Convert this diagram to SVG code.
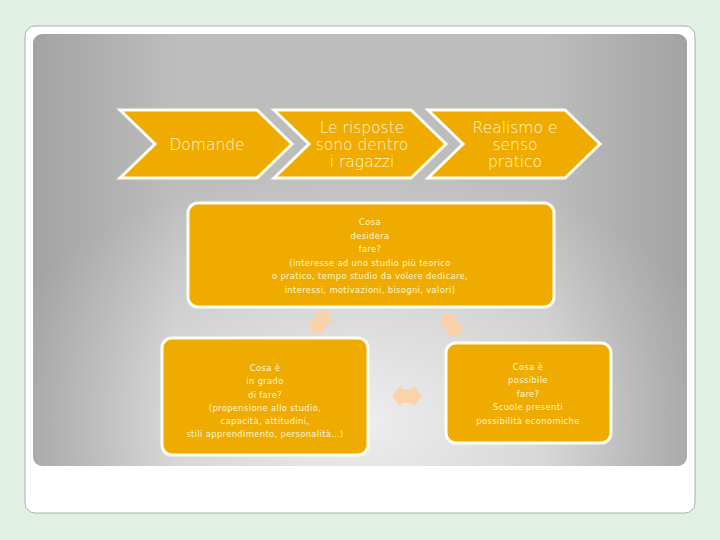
<svg xmlns="http://www.w3.org/2000/svg" width="720" height="540" viewBox="0 0 720 540">
<defs>
<radialGradient id="bg" cx="0.5" cy="0.9" r="0.6">
<stop offset="0" stop-color="#EEEEEE"/>
<stop offset="0.6" stop-color="#D2D2D2"/>
<stop offset="1" stop-color="#BDBDBD"/>
</radialGradient>
<linearGradient id="vig" x1="0" y1="0" x2="1" y2="0">
<stop offset="0" stop-color="#000" stop-opacity="0.14"/>
<stop offset="0.22" stop-color="#000" stop-opacity="0"/>
<stop offset="0.78" stop-color="#000" stop-opacity="0"/>
<stop offset="1" stop-color="#000" stop-opacity="0.14"/>
</linearGradient>
<style>
.shape{fill:#EFAB00;stroke:#FFFDF2;stroke-width:3;stroke-linejoin:miter}
.box{fill:#EFAB00;stroke:#FFFDF2;stroke-width:3}
.big{font-family:"DejaVu Sans",Verdana,sans-serif;font-weight:300;font-size:15.5px;fill:#FFF6D2;text-anchor:middle}
.small{font-family:"DejaVu Sans",Verdana,sans-serif;font-size:8.4px;letter-spacing:0.35px;fill:#FFF6D2;text-anchor:middle}
.arr{fill:#FBD2A6;opacity:0.95}
</style>
</defs>
<rect width="720" height="540" fill="#E0F0E2"/>
<rect x="25" y="26" width="670" height="487" rx="10" fill="#FFFFFF" stroke="#A9B2AA" stroke-width="1"/>
<rect x="33" y="34" width="654" height="432" rx="9" fill="url(#bg)"/>
<rect x="33" y="34" width="654" height="432" rx="9" fill="url(#vig)"/>

<g id="chevron-domande">
<polygon class="shape" points="120,110 257,110 292,144 257,178 120,178 155,144"/>
<text class="big" x="207" y="150">Domande</text>
</g>
<g id="chevron-risposte">
<polygon class="shape" points="274,110 411,110 446,144 411,178 274,178 309,144"/>
<text class="big" x="362" y="133">Le risposte</text>
<text class="big" x="362" y="150">sono dentro</text>
<text class="big" x="362" y="167">i ragazzi</text>
</g>
<g id="chevron-realismo">
<polygon class="shape" points="428,110 565,110 600,144 565,178 428,178 463,144"/>
<text class="big" x="515" y="133">Realismo e</text>
<text class="big" x="515" y="150">senso</text>
<text class="big" x="515" y="167">pratico</text>
</g>

<g id="box-desidera">
<rect class="box" x="188" y="203" width="366" height="104" rx="10"/>
<text class="small" x="370" y="225">Cosa</text>
<text class="small" x="370" y="239">desidera</text>
<text class="small" x="370" y="252">fare?</text>
<text class="small" x="370" y="266">(interesse ad uno studio più teorico</text>
<text class="small" x="370" y="279">o pratico, tempo studio da volere dedicare,</text>
<text class="small" x="370" y="293">interessi, motivazioni, bisogni, valori)</text>
</g>
<g id="box-grado">
<rect class="box" x="162" y="338" width="206" height="117" rx="10"/>
<text class="small" x="265" y="371">Cosa è</text>
<text class="small" x="265" y="384">in grado</text>
<text class="small" x="265" y="398">di fare?</text>
<text class="small" x="265" y="411">(propensione allo studio,</text>
<text class="small" x="265" y="424">capacità, attitudini,</text>
<text class="small" x="265" y="437">stili apprendimento, personalità…)</text>
</g>
<g id="box-possibile">
<rect class="box" x="446" y="343" width="165" height="100" rx="10"/>
<text class="small" x="528" y="370">Cosa è</text>
<text class="small" x="528" y="383">possibile</text>
<text class="small" x="528" y="397">fare?</text>
<text class="small" x="528" y="410">Scuole presenti</text>
<text class="small" x="528" y="424">possibilità economiche</text>
</g>

<g id="connectors">
<polygon class="arr" transform="translate(320,322) rotate(-55)" points="-14,0 -5,-11 -5,-7 5,-7 5,-11 14,0 5,11 5,7 -5,7 -5,11"/>
<polygon class="arr" transform="translate(451,325) rotate(50)" points="-14,0 -5,-11 -5,-7 5,-7 5,-11 14,0 5,11 5,7 -5,7 -5,11"/>
<polygon class="arr" transform="translate(407,396)" points="-15,0 -6,-11 -6,-7 6,-7 6,-11 15,0 6,11 6,7 -6,7 -6,11"/>
</g>
</svg>
